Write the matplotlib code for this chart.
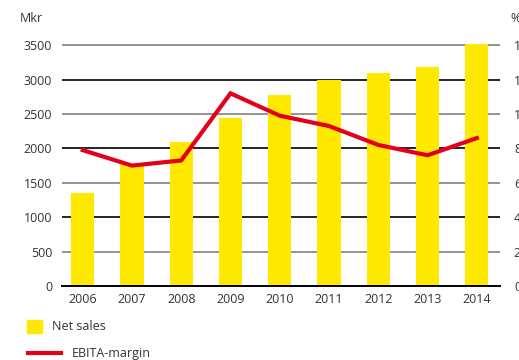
import matplotlib
matplotlib.use("Agg")
import matplotlib.pyplot as plt
from matplotlib.patches import Rectangle
from matplotlib.lines import Line2D

years = ["2006", "2007", "2008", "2009", "2010", "2011", "2012", "2013", "2014"]
net_sales = [1350, 1780, 2100, 2440, 2770, 2990, 3090, 3180, 3520]  # Mkr
ebita_margin = [7.9, 7.0, 7.3, 11.2, 9.9, 9.3, 8.2, 7.6, 8.6]        # %
left_ticks = [0, 500, 1000, 1500, 2000, 2500, 3000, 3500]
right_ticks = [0, 2, 4, 6, 8, 10, 12, 14]

YELLOW = "#FFE900"
RED = "#E2001A"
TEXT = "#333333"
FONT = "Open Sans"

fig = plt.figure(figsize=(5.19, 3.60), dpi=100)
ax = fig.add_axes([62 / 519, 74 / 360, 438 / 519, 247.7 / 360])

x = list(range(len(years)))
ax.bar(x, net_sales, width=0.47, color=YELLOW, zorder=2)

ax.set_xlim(-0.42, 8.47)
ax.set_ylim(0, 3600)

# horizontal grid: alternating grey and black rules
for v in left_ticks[1:]:
    col = "#808080" if (v // 500) % 2 == 1 else "#000000"
    ax.axhline(v, color=col, lw=1.2, zorder=1)

for s in ["top", "right", "left"]:
    ax.spines[s].set_visible(False)
ax.spines["bottom"].set_color("#000000")
ax.spines["bottom"].set_linewidth(1.4)
ax.spines["bottom"].set_zorder(4)

ax.set_yticks(left_ticks)
ax.set_yticklabels([str(t) for t in left_ticks], fontsize=9, color=TEXT, family=FONT)
ax.tick_params(axis="y", length=0, pad=7)
ax.set_xticks(x)
ax.set_xticklabels(years, fontsize=9, color=TEXT, family=FONT)
ax.tick_params(axis="x", length=0, pad=5)

# secondary axis for the margin
ax2 = ax.twinx()
ax2.set_ylim(0, 3600 / 250)
ax2.plot(x, ebita_margin, color=RED, lw=3, solid_joinstyle="miter", zorder=5)
ax2.set_yticks(right_ticks)
ax2.set_yticklabels([str(t) for t in right_ticks], fontsize=9, color=TEXT, family=FONT)
ax2.tick_params(axis="y", length=0, pad=10)
for s in ax2.spines.values():
    s.set_visible(False)

fig.text(20 / 519, 1 - 18 / 360, "Mkr", fontsize=9, color=TEXT, family=FONT, va="center")
fig.text(510 / 519, 1 - 18 / 360, "%", fontsize=9, color=TEXT, family=FONT, va="center")

# legend
fig.patches.append(Rectangle((27 / 519, 1 - 333 / 360), 15 / 519, 13 / 360,
                             transform=fig.transFigure, color=YELLOW))
fig.text(52 / 519, 1 - 327 / 360, "Net sales", fontsize=9, color=TEXT, family=FONT, va="center")
fig.lines.append(Line2D([28 / 519, 61 / 519], [1 - 353 / 360, 1 - 353 / 360],
                        transform=fig.transFigure, color=RED, lw=3))
fig.text(72 / 519, 1 - 353 / 360, "EBITA-margin", fontsize=9, color=TEXT, family=FONT, va="center")

fig.savefig("out.png", dpi=100)
